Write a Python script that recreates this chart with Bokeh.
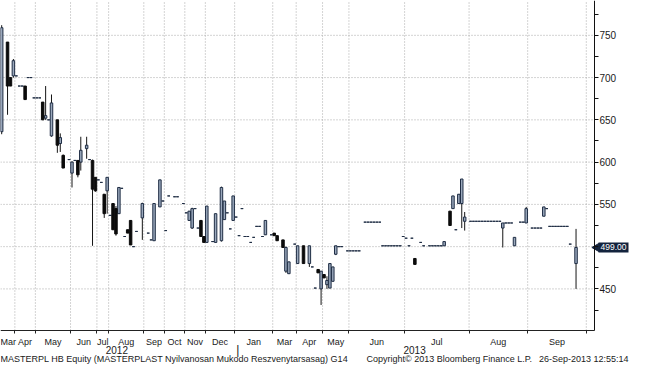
from bokeh.plotting import figure
from bokeh.models import ColumnDataSource, FixedTicker, Label, Range1d
from bokeh.embed import file_html
from bokeh.resources import INLINE

# ---- data: trading-session index and OHLC (HUF) ----
day = [0, 2, 3, 4, 5, 6, 7, 8, 9, 10,
       11, 12, 13, 14, 15, 16, 17, 19, 20, 21,
       23, 24, 25, 26, 27, 29, 30, 31, 32, 33,
       34, 35, 36, 37, 38, 39, 40, 41, 42, 43,
       44, 45, 46, 48, 50, 51, 52, 54, 55, 56,
       57, 59, 60, 62, 63, 64, 65, 66, 67, 68,
       69, 70, 72, 73, 75, 76, 77, 78, 79, 80,
       81, 82, 83, 84, 85, 86, 87, 88, 89, 90,
       92, 93, 94, 96, 97, 98, 100, 101, 103, 105,
       106, 107, 108, 109, 110, 111, 112, 113, 114, 115,
       116, 118, 119, 120, 121, 122, 124, 125, 126, 127,
       128, 129, 130, 131, 132, 133, 134, 135, 136, 137,
       138, 139, 140, 141, 143, 144, 146, 147, 148, 149,
       150, 151, 153, 154, 155, 156, 157, 158, 160, 161,
       162, 163, 164, 165, 166, 167, 168, 169, 170, 171,
       172, 173, 174, 175, 177, 178, 179, 181, 182, 183,
       184, 185, 186, 187, 188, 189, 190, 191, 192, 193,
       194, 196]

open_ = [636, 742, 700, 702, 702, 690, 690, 690, 700, 700,
         676, 676, 676, 671, 652, 650, 631, 650, 622, 608,
         603, 587, 602, 602, 600, 616, 603, 602, 582, 579,
         576, 562, 566, 537, 551, 545, 539, 569, 512, 520,
         531, 500, 518, 534, 516, 508, 507, 547, 554, 519,
         560, 559, 559, 551, 540, 531, 522, 545, 522, 531,
         512, 505, 506, 505, 507, 532, 540, 521, 531, 535,
         513, 545, 512, 512, 505, 511, 524, 524, 512, 514,
         514, 516, 513, 508, 471, 468, 503, 480, 501, 480,
         476, 451, 473, 450, 467, 455, 451, 459, 491, 500,
         500, 495, 495, 495, 495, 495, 529, 529, 529, 529,
         529, 529, 501, 501, 501, 501, 501, 501, 501, 512,
         510, 501, 510, 486, 505, 501, 501, 501, 501, 501,
         501, 501, 542, 545, 520, 551, 551, 530, 530, 530,
         530, 530, 530, 530, 530, 530, 530, 530, 530, 522,
         528, 528, 528, 501, 529, 529, 528, 522, 522, 522,
         522, 536, 545, 524, 524, 524, 524, 524, 524, 524,
         503, 480]

high = [762, 742, 700, 722, 702, 690, 690, 690, 700, 700,
        676, 676, 676, 671, 690, 650, 680, 650, 634, 609,
        603, 601, 602, 602, 630, 630, 603, 603, 582, 579,
        576, 562, 582, 537, 551, 548, 570, 569, 512, 520,
        531, 500, 518, 552, 516, 508, 551, 579, 554, 519,
        560, 559, 559, 551, 540, 542, 546, 545, 522, 531,
        512, 548, 506, 539, 571, 554, 540, 521, 560, 535,
        513, 545, 512, 512, 505, 511, 524, 524, 512, 531,
        514, 516, 513, 508, 500, 482, 503, 501, 501, 501,
        476, 451, 473, 471, 467, 465, 480, 476, 501, 500,
        500, 495, 495, 495, 495, 495, 529, 529, 529, 529,
        529, 529, 501, 501, 501, 501, 501, 501, 501, 512,
        510, 501, 510, 486, 505, 501, 501, 501, 501, 501,
        501, 506, 542, 560, 520, 562, 580, 541, 530, 530,
        530, 530, 530, 530, 530, 530, 530, 530, 530, 528,
        528, 528, 528, 511, 529, 529, 547, 522, 522, 522,
        522, 547, 545, 524, 524, 524, 524, 524, 524, 524,
        503, 521]

low = [633, 656, 690, 700, 702, 690, 690, 674, 700, 700,
       676, 676, 676, 650, 650, 650, 630, 611, 612, 593,
       603, 570, 602, 582, 590, 604, 603, 501, 565, 579,
       576, 534, 539, 537, 520, 513, 539, 569, 512, 516,
       502, 500, 518, 508, 516, 508, 507, 547, 554, 519,
       560, 559, 559, 551, 540, 531, 521, 545, 522, 512,
       505, 505, 506, 505, 506, 532, 540, 521, 531, 535,
       513, 545, 512, 512, 505, 511, 524, 524, 512, 514,
       514, 513, 507, 499, 469, 468, 503, 480, 480, 476,
       476, 451, 469, 431, 463, 450, 451, 459, 490, 500,
       500, 495, 495, 495, 495, 495, 529, 529, 529, 529,
       529, 529, 501, 501, 501, 501, 501, 501, 501, 512,
       510, 501, 510, 479, 505, 501, 501, 501, 501, 501,
       501, 501, 525, 545, 520, 551, 522, 519, 530, 530,
       530, 530, 530, 530, 530, 530, 530, 530, 530, 499,
       528, 528, 528, 501, 529, 529, 528, 522, 522, 522,
       522, 536, 545, 524, 524, 524, 524, 524, 524, 524,
       503, 450]

close = [759, 690, 690, 720, 702, 690, 690, 674, 700, 700,
         676, 676, 676, 650, 655, 650, 670, 620, 629, 593,
         603, 600, 602, 585, 614, 620, 603, 568, 566, 579,
         576, 539, 582, 537, 520, 515, 570, 569, 512, 516,
         502, 500, 518, 551, 516, 508, 551, 579, 554, 519,
         560, 559, 559, 551, 540, 542, 545, 545, 522, 512,
         505, 548, 506, 539, 570, 554, 540, 521, 560, 535,
         513, 545, 512, 512, 505, 511, 524, 524, 512, 531,
         514, 513, 507, 499, 499, 482, 503, 501, 480, 501,
         476, 451, 469, 471, 463, 460, 480, 476, 501, 500,
         500, 495, 495, 495, 495, 495, 529, 529, 529, 529,
         529, 529, 501, 501, 501, 501, 501, 501, 501, 512,
         510, 501, 510, 479, 505, 501, 501, 501, 501, 501,
         501, 506, 525, 560, 520, 562, 580, 535, 530, 530,
         530, 530, 530, 530, 530, 530, 530, 530, 530, 528,
         528, 528, 528, 511, 529, 529, 545, 522, 522, 522,
         522, 547, 545, 524, 524, 524, 524, 524, 524, 524,
         503, 499]

# month boundaries (session index) and labels
month_bounds = [4.5, 11.5, 23.5, 32.5, 36.5, 48.5, 55.5, 62.5, 69.5, 79.5,
                92.5, 100.5, 109.5, 118.5, 137.5, 159.5, 179.5, 199.5]
month_names = ["Mar", "Apr", "May", "Jun", "Jul", "Aug", "Sep", "Oct", "Nov", "Dec",
               "Jan", "Mar", "Apr", "May", "Jun", "Jul", "Aug", "Sep"]
year_names = ["2012", "2013"]
year_pos = [39.3, 140.9]
year_sep = 80.6
price_ticks = [450, 550, 600, 650, 700, 750]
price_grid = [450, 500, 550, 600, 650, 700, 750]
price_minor = [425, 475, 500, 525, 575, 625, 675, 725, 775]
last_price = 499.00

footer_left = "MASTERPL HB Equity (MASTERPLAST Nyilvanosan Mukodo Reszvenytarsasag) G14"
footer_mid = "Copyright\u00a9 2013 Bloomberg Finance L.P."
footer_right = "26-Sep-2013 12:55:14"

# ---- layout ----
W, H = 629, 364            # whole canvas
CW, CH = 594, 330          # chart (plotting) area inside it
x_start, x_end = -0.4, 202.3
y_start, y_end = 400.8, 791.2
ux = (x_end - x_start) / CW
uy = (y_end - y_start) / CH
full_x_end = x_start + W * ux
full_y_start = y_end - H * uy

FONT = "Liberation Sans"
TXT = "#1a1a1a"
UP_FILL, UP_LINE, DOWN = "#9aa8bc", "#1f2d44", "#0b0b0b"
GRID = "#a8a8a8"
TAG = "#13233d"

assert len(day) == len(open_) == len(high) == len(low) == len(close)

up_idx = [i for i in range(len(day)) if close[i] >= open_[i]]
dn_idx = [i for i in range(len(day)) if close[i] < open_[i]]

def sub(idx):
    return ColumnDataSource(dict(
        x=[day[i] for i in idx],
        top=[max(open_[i], close[i]) for i in idx],
        bottom=[min(open_[i], close[i]) for i in idx],
    ))

wick_src = ColumnDataSource(dict(x=day, high=high, low=low))

p = figure(width=W, height=H, output_backend="svg", toolbar_location=None,
           x_range=Range1d(x_start, full_x_end), y_range=Range1d(full_y_start, y_end),
           y_axis_location="right", min_border=0)
p.outline_line_color = None
p.background_fill_color = "white"
p.border_fill_color = "white"
p.xgrid.visible = False
p.ygrid.visible = False

# dotted grid limited to the chart area
nb, ng = len(month_bounds), len(price_grid)
p.segment(x0=month_bounds, x1=month_bounds, y0=[y_start] * nb, y1=[y_end] * nb,
          line_color=GRID, line_dash="1 2", line_width=1)
p.segment(x0=[x_start] * ng, x1=[x_end] * ng, y0=price_grid, y1=price_grid,
          line_color=GRID, line_dash="1 2", line_width=1)

# candles
p.segment(x0="x", y0="low", x1="x", y1="high", source=wick_src,
          line_color="#151515", line_width=1)
p.vbar(x="x", width=0.85, top="top", bottom="bottom", source=sub(up_idx),
       fill_color=UP_FILL, line_color=UP_LINE, line_width=1)
p.vbar(x="x", width=0.85, top="top", bottom="bottom", source=sub(dn_idx),
       fill_color=DOWN, line_color=DOWN, line_width=1)

# x axis: month labels centred between month boundaries
edges = [x_start] + month_bounds
month_centers = [(edges[i] + edges[i + 1]) / 2 for i in range(len(month_names))]
xa = p.xaxis[0]
xa.fixed_location = y_start
xa.bounds = (x_start, x_end)
xa.ticker = FixedTicker(ticks=month_centers, minor_ticks=month_bounds)
xa.major_label_overrides = {c: n for c, n in zip(month_centers, month_names)}
xa.major_tick_line_color = None
xa.major_tick_out = 0
xa.major_tick_in = 0
xa.minor_tick_out = 3
xa.minor_tick_in = 0
xa.minor_tick_line_color = "#222222"
xa.axis_line_color = "#222222"
xa.major_label_text_font = FONT
xa.major_label_text_font_size = "9px"
xa.major_label_text_color = TXT
xa.major_label_standoff = 3

# y axis on the right of the chart area
ya = p.yaxis[0]
ya.fixed_location = x_end
ya.bounds = (y_start, y_end)
ya.ticker = FixedTicker(ticks=price_ticks, minor_ticks=price_minor)
ya.major_tick_out = 4
ya.major_tick_in = 0
ya.minor_tick_out = 4
ya.minor_tick_in = 0
ya.axis_line_color = "#111111"
ya.major_tick_line_color = "#111111"
ya.minor_tick_line_color = "#111111"
ya.major_label_text_font = FONT
ya.major_label_text_font_size = "10px"
ya.major_label_text_color = TXT
ya.major_label_standoff = 1

# year labels + separator
year_y = y_end - 349 * uy
for yx, yn in zip(year_pos, year_names):
    p.add_layout(Label(x=yx, y=year_y, text=yn, text_align="center", text_baseline="middle",
                       text_font=FONT, text_font_size="10px", text_color=TXT))
p.add_layout(Label(x=year_sep, y=year_y, text="|", text_align="center", text_baseline="middle",
                   text_font=FONT, text_font_size="12px", text_color=TXT))

# footer
foot_y = y_end - 358.5 * uy
p.add_layout(Label(x=x_start, y=foot_y, text=footer_left, text_align="left",
                   text_baseline="middle", text_font=FONT, text_font_size="9px",
                   text_color=TXT))
p.add_layout(Label(x=x_start + 366 * ux, y=foot_y, text=footer_mid, text_align="left",
                   text_baseline="middle", text_font=FONT, text_font_size="9px",
                   text_color=TXT))
p.add_layout(Label(x=x_start + 628 * ux, y=foot_y, text=footer_right, text_align="right",
                   text_baseline="middle", text_font=FONT, text_font_size="9px",
                   text_color=TXT))

# last price tag
p.scatter(x=[x_end + 2.0 * ux], y=[last_price], marker="triangle", angle=1.5708,
          size=8, fill_color=TAG, line_color=TAG)
p.add_layout(Label(x=x_end, y=last_price, x_offset=4, text=f"{last_price:.2f}",
                   text_align="left", text_baseline="middle", text_font=FONT,
                   text_font_size="8.5px", text_color="white",
                   background_fill_color=TAG, padding=2))

open("out.html", "w").write(file_html(p, INLINE))
